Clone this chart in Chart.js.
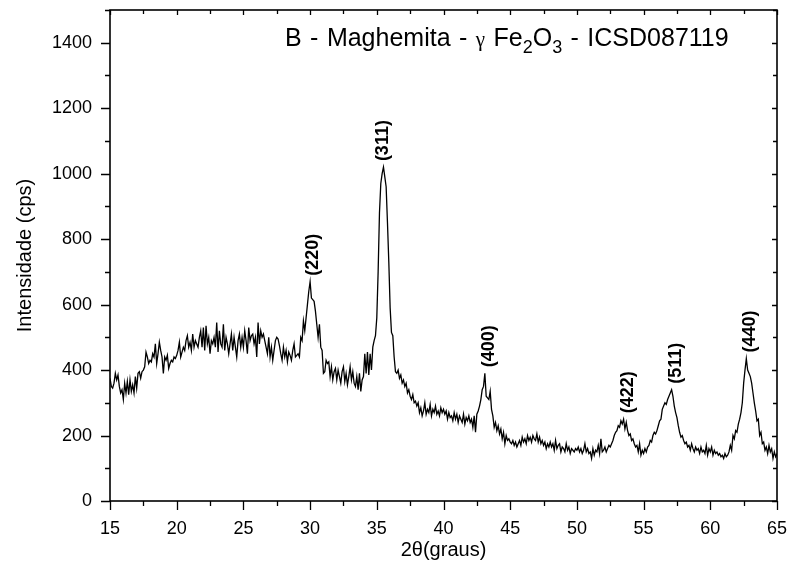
<!DOCTYPE html>
<html>
<head>
<meta charset="utf-8">
<script src="https://cdn.jsdelivr.net/npm/chart.js@4"></script>
<style>
  html, body { margin: 0; padding: 0; background: #fff; }
  #xrdChart { display: block; }
</style>
</head>
<body>
<canvas id="xrdChart" width="789" height="566"></canvas>
<script>
// scan settings: 2theta from 15 to 65 in 0.1 degree steps
const startAngle = 15;
const stepAngle = 0.1;

// intensity (cps), one row per degree
const intensity15to25 = [
  375, 350, 345, 360, 390, 370, 385, 350, 330, 340,
  310, 360, 330, 365, 325, 370, 335, 355, 330, 380,
  345, 390, 395, 375, 395, 400, 410, 455, 440, 420,
  430, 425, 450, 440, 480, 420, 450, 485, 460, 440,
  390, 440, 430, 445, 405, 420, 430, 425, 440, 435,
  445, 460, 485, 440, 455, 470, 460, 490, 505, 470,
  485, 460, 510, 470, 490, 480, 470, 500, 520, 470,
  530, 460, 535, 480, 500, 450, 490, 480, 500, 470,
  545, 455, 520, 480, 470, 540, 460, 500, 480, 450,
  480, 510, 460, 500, 470, 440, 490, 510, 470, 500
];
const intensity25to35 = [
  470, 520, 490, 450, 530, 490, 505, 510, 480, 500,
  440, 545, 480, 520, 500, 510, 490, 470, 450, 500,
  440, 470, 430, 460, 490, 500, 495, 475, 450, 430,
  470, 440, 460, 425, 455, 445, 430, 460, 480, 440,
  445, 450, 440, 500, 490, 550, 520, 560, 600, 640,
  670, 620, 615, 610, 580, 540, 500, 540, 470, 460,
  390, 395, 430, 420, 425, 380, 410, 370, 395, 405,
  370, 400, 380, 360, 395, 410, 365, 390, 355, 380,
  410, 370, 395, 360, 350, 380, 340, 390, 335, 370,
  380, 450, 390, 455, 385, 450, 400, 470, 490, 505
];
const intensity35to45 = [
  560, 700, 880, 970, 1000, 1020, 990, 960, 850, 730,
  590, 515, 505, 440, 395, 390, 400, 375, 385, 360,
  370, 350, 360, 330, 340, 320, 310, 325, 300, 305,
  290, 300, 270, 285, 260, 275, 300, 265, 280, 270,
  295, 260, 280, 270, 290, 265, 275, 260, 285, 270,
  280, 265, 275, 250, 270, 255, 260, 245, 270, 250,
  265, 240, 260, 250, 240, 265, 235, 255, 245, 260,
  240, 250, 225, 260, 210, 265, 275, 290, 310, 340,
  350, 390, 320, 315, 310, 335, 280, 260, 225, 240,
  215, 230, 205, 220, 190, 210, 175, 200, 185, 190
];
const intensity45to55 = [
  180, 175, 185, 170, 180, 165, 175, 185, 170, 195,
  180, 190, 175, 200, 185, 195, 180, 200, 190, 185,
  205, 180, 195, 175, 185, 170, 180, 160, 175, 165,
  180, 165, 175, 155, 185, 160, 170, 175, 150, 165,
  160, 150, 175, 155, 165, 145, 160, 155, 150, 160,
  155, 165, 150, 160, 145, 155, 175, 150, 160, 145,
  150, 130, 160, 140, 155, 150, 170, 145, 190, 150,
  155, 165, 150, 160, 170, 165, 175, 185, 200, 210,
  215, 230, 225, 245, 235, 250, 220, 240, 215, 200,
  205, 185, 190, 175, 165, 170, 150, 175, 140, 155
];
const intensity55to65 = [
  145, 160, 150, 165, 170, 185, 180, 200, 210, 205,
  215, 230, 245, 250, 280, 290, 300, 295, 310, 320,
  330, 340, 320, 290, 270, 255, 230, 210, 195, 200,
  185, 175, 180, 165, 170, 155, 175, 160, 150, 165,
  155, 160, 145, 165, 150, 155, 145, 170, 140, 160,
  150, 165, 140, 155, 145, 150, 140, 145, 135, 140,
  130, 145, 135, 140, 150, 170, 155, 200, 190, 215,
  210, 235, 250, 270, 300, 360, 400, 435, 400, 390,
  380, 360, 330, 300, 275, 245, 250, 200, 210, 175,
  180, 155, 165, 145, 170, 150, 160, 130, 150, 135,
  145
];

// reflection indices and where they are written
const hklLabels = ['(220)', '(311)', '(400)', '(422)', '(511)', '(440)'];
const hklAngles = [30.2, 35.5, 43.4, 53.8, 57.4, 63.0];

const xTicks = [15, 20, 25, 30, 35, 40, 45, 50, 55, 60, 65];
const yTicks = [0, 200, 400, 600, 800, 1000, 1200, 1400];

const intensity = [].concat(intensity15to25, intensity25to35, intensity35to45,
                            intensity45to55, intensity55to65);
const points = intensity.map((v, i) => ({ x: +(startAngle + i * stepAngle).toFixed(1), y: v }));

const FONT = 'Arial, "Liberation Sans", sans-serif';

// keep the plot box fixed: no extra room for overhanging tick labels
function noOverhang(s) {
  s.paddingLeft = 0; s.paddingRight = 0;
  s.paddingTop = 0; s.paddingBottom = 0;
}

// box, mirrored ticks, sample title and hkl labels
const decorations = {
  id: 'decorations',
  afterDraw(chart) {
    const { ctx, chartArea: a, scales: { x, y } } = chart;
    ctx.save();
    ctx.strokeStyle = '#000';
    ctx.lineWidth = 1.6;
    ctx.strokeRect(a.left, a.top, a.right - a.left, a.bottom - a.top);

    ctx.lineWidth = 1.3;
    ctx.beginPath();
    for (let v = 15; v <= 65; v += 2.5) {
      const px = Math.round(x.getPixelForValue(v)) + 0.5;
      const major = v % 5 === 0;
      ctx.moveTo(px, a.bottom); ctx.lineTo(px, a.bottom + (major ? 9 : 5));
      ctx.moveTo(px, a.top); ctx.lineTo(px, a.top + (major ? 5 : 4));
    }
    for (let v = 0; v <= 1500; v += 100) {
      const py = Math.round(y.getPixelForValue(v)) + 0.5;
      const major = v % 200 === 0;
      ctx.moveTo(a.left, py); ctx.lineTo(a.left - (major ? 9 : 5), py);
      ctx.moveTo(a.right, py); ctx.lineTo(a.right - (major ? 5 : 4), py);
    }
    ctx.stroke();

    // title: words, greek gamma and subscripts
    const big = '25px ' + FONT;
    const sub = '18px ' + FONT;
    ctx.font = big;
    const gap = ctx.measureText(' ').width + 1.5;
    const parts = [
      { t: 'B', f: big, dy: 0, sp: gap },
      { t: '-', f: big, dy: 0, sp: gap },
      { t: 'Maghemita', f: big, dy: 0, sp: gap },
      { t: '-', f: big, dy: 0, sp: gap },
      { t: 'γ', f: '21px "Liberation Serif", serif', dy: 0, sp: gap },
      { t: 'Fe', f: big, dy: 0, sp: 0 },
      { t: '2', f: sub, dy: 7, sp: 0 },
      { t: 'O', f: big, dy: 0, sp: 0 },
      { t: '3', f: sub, dy: 7, sp: gap },
      { t: '-', f: big, dy: 0, sp: gap },
      { t: 'ICSD087119', f: big, dy: 0, sp: 0 }
    ];
    ctx.fillStyle = '#000';
    ctx.textBaseline = 'alphabetic';
    ctx.textAlign = 'left';
    let tx = 285;
    parts.forEach(p => {
      ctx.font = p.f;
      ctx.fillText(p.t, tx, 46 + p.dy);
      tx += ctx.measureText(p.t).width + p.sp;
    });

    // hkl labels, rotated, just above the local maximum
    ctx.font = 'bold 18px ' + FONT;
    ctx.textBaseline = 'middle';
    hklLabels.forEach((lbl, k) => {
      const c = hklAngles[k];
      let top = 0;
      points.forEach(p => { if (Math.abs(p.x - c) <= 0.5 && p.y > top) top = p.y; });
      const px = x.getPixelForValue(c);
      const py = y.getPixelForValue(top) - 6;
      ctx.save();
      ctx.translate(px, py);
      ctx.rotate(-Math.PI / 2);
      ctx.fillText(lbl, 0, 0);
      ctx.restore();
    });
    ctx.restore();
  }
};

new Chart(document.getElementById('xrdChart'), {
  type: 'line',
  data: {
    datasets: [{
      data: points,
      borderColor: '#000',
      borderWidth: 1.3,
      pointRadius: 0,
      tension: 0,
      fill: false
    }]
  },
  options: {
    responsive: false,
    animation: false,
    layout: { padding: { top: 10, right: 12, left: 0, bottom: 0 } },
    plugins: { legend: { display: false }, tooltip: { enabled: false } },
    scales: {
      x: {
        type: 'linear',
        min: 15,
        max: 65,
        afterBuildTicks: s => { s.ticks = xTicks.map(v => ({ value: v })); },
        afterFit: s => { s.height = 65; noOverhang(s); },
        ticks: { color: '#000', font: { family: FONT, size: 18 }, padding: 17, maxRotation: 0,
                 callback: v => String(v) },
        grid: { display: false, drawTicks: false },
        border: { display: false },
        title: { display: true, text: '2θ(graus)', color: '#000', font: { family: FONT, size: 20 }, padding: { bottom: 4 } }
      },
      y: {
        min: 0,
        max: 1500,
        afterBuildTicks: s => { s.ticks = yTicks.map(v => ({ value: v })); },
        afterFit: s => { s.width = 110; noOverhang(s); },
        ticks: { color: '#000', font: { family: FONT, size: 18 }, padding: 18,
                 callback: v => String(v) },
        grid: { display: false, drawTicks: false },
        border: { display: false },
        title: { display: true, text: 'Intensidade (cps)', color: '#000', font: { family: FONT, size: 20 }, padding: { top: 13 } }
      }
    }
  },
  plugins: [decorations]
});
</script>
</body>
</html>
